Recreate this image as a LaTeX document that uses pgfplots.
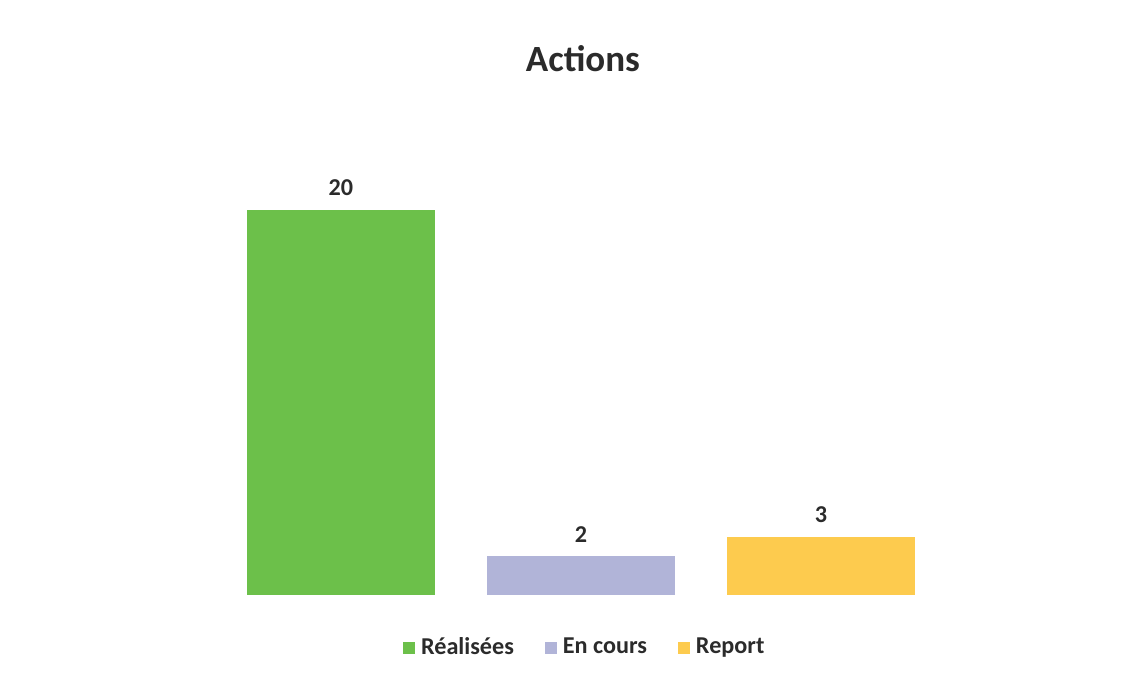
\documentclass[border=0pt]{standalone}
\usepackage{pgfplots}
\pgfplotsset{compat=1.18}
\usepackage{fontspec}
\setmainfont{Carlito}
\definecolor{cgreen}{HTML}{6CC04A}
\definecolor{cblue}{HTML}{B1B4D8}
\definecolor{cyellow}{HTML}{FDCB4E}
\definecolor{ctext}{HTML}{2B2B2B}
\begin{document}
\begin{tikzpicture}
\path[use as bounding box, fill=white] (0,0) rectangle (400pt,236.9pt);
\node[anchor=base, font=\fontsize{13}{15}\selectfont\bfseries, text=ctext] at (204.9pt,211.6pt) {Actions};
\begin{axis}[
  at={(77.68pt,27.77pt)}, anchor=south west,
  scale only axis, width=253.07pt, height=135.32pt,
  xmin=-0.5, xmax=2.5, ymin=0, ymax=20,
  axis lines=none, clip=false,
  xtick=\empty, ytick=\empty,
  /pgf/number format/assume math mode=true,
  nodes near coords,
  every node near coord/.append style={font=\fontsize{8.5}{10}\selectfont\bfseries, text=ctext, yshift=1.5pt},
  legend columns=3,
  legend style={at={(0.508,-0.1377)}, anchor=center, draw=none, fill=none,
    font=\fontsize{8.5}{10}\selectfont\bfseries, text=ctext,
    /tikz/every even column/.append style={column sep=9pt}},
  legend image code/.code={\path[#1,draw=none] (0pt,-2pt) rectangle (4.2pt,2.2pt);},
]
\addplot[ybar, bar width=0.783, bar shift=0pt, fill=cgreen, draw=none] coordinates {(0,20)};
\addlegendentry{Réalisées}
\addplot[ybar, bar width=0.783, bar shift=0pt, fill=cblue, draw=none] coordinates {(1,2)};
\addlegendentry{En cours}
\addplot[ybar, bar width=0.783, bar shift=0pt, fill=cyellow, draw=none] coordinates {(2,3)};
\addlegendentry{Report}
\end{axis}
\end{tikzpicture}
\end{document}
